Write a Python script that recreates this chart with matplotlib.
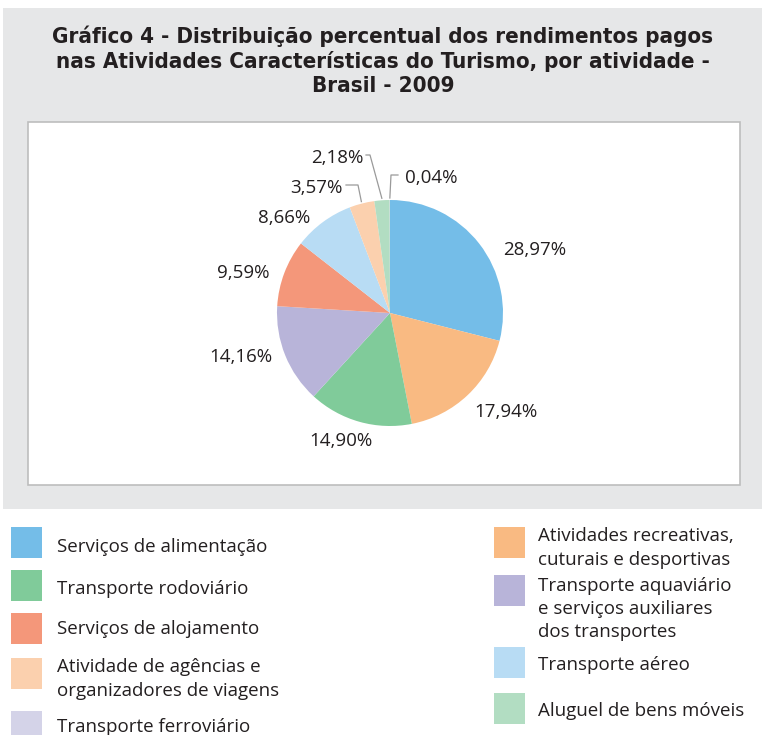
import numpy as np
import matplotlib.pyplot as plt
from matplotlib.patches import Rectangle

W, H = 762, 735

categories = [
    'Serviços de alimentação',
    'Atividades recreativas,\ncuturais e desportivas',
    'Transporte rodoviário',
    'Transporte aquaviário\ne serviços auxiliares\ndos transportes',
    'Serviços de alojamento',
    'Transporte aéreo',
    'Atividade de agências e\norganizadores de viagens',
    'Aluguel de bens móveis',
    'Transporte ferroviário',
]
values = [28.97, 17.94, 14.90, 14.16, 9.59, 8.66, 3.57, 2.18, 0.04]
pct_labels = ['28,97%', '17,94%', '14,90%', '14,16%', '9,59%',
              '8,66%', '3,57%', '2,18%', '0,04%']
colors = ['#74BDE8', '#F9BA82', '#80CB9A', '#B8B4D9', '#F4977A',
          '#B8DCF4', '#FBD0AE', '#B2DDC2', '#D4D3E8']

title_lines = ['Gráfico 4 - Distribuição percentual dos rendimentos pagos',
               'nas Atividades Características do Turismo, por atividade -',
               'Brasil - 2009']

TXT = '#231F20'
FONT = ['Open Sans', 'DejaVu Sans']
DY = 2.5  # Open Sans sits a bit high with va='center'

fig = plt.figure(figsize=(W / 100, H / 100), dpi=100)
ax = fig.add_axes([0, 0, 1, 1])


def Y(y):
    # image row (top-down) -> axis y (bottom-up)
    return H - y


# backgrounds
ax.add_patch(Rectangle((3, Y(509)), 759, 501, fc='#E6E7E8', ec='none', zorder=0))
ax.add_patch(Rectangle((28, Y(485)), 712, 363, fc='white', ec='#BDBDBD', lw=1.2, zorder=1))

for i, line in enumerate(title_lines):
    ax.text(383, Y(36 + 25 * i), line, ha='center', va='center', fontsize=16,
            fontweight='bold', family='DejaVu Sans', fontstretch='condensed',
            color=TXT, zorder=3)

# pie
cx, cy, r = 390, Y(313), 113
wedges, _ = ax.pie(values, colors=colors, startangle=90, counterclock=False,
                   center=(cx, cy), radius=r, wedgeprops=dict(linewidth=0, zorder=2))

# percentage labels (image coords of label anchor)
label_pos = [(503, 247, 'left'), (474, 409, 'left'), (341, 438, 'center'),
             (272, 354, 'right'), (269, 270, 'right'), (310, 215, 'right'),
             (343, 185, 'right'), (363, 155, 'right'), (405, 175, 'left')]
for lab, (x, y, ha) in zip(pct_labels, label_pos):
    ax.text(x, Y(y + DY), lab, ha=ha, va='center', fontsize=13.5, family=FONT,
            color=TXT, zorder=3)

# leader lines for the small slices
elbows = {6: (346, 358, 185), 7: (366, 370, 155), 8: (398, 391, 175)}
for idx, (x0, x1, y) in elbows.items():
    w = wedges[idx]
    mid = np.deg2rad((w.theta1 + w.theta2) / 2)
    ex, ey = cx + (r + 2) * np.cos(mid), cy + (r + 2) * np.sin(mid)
    ax.plot([x0, x1, ex], [Y(y), Y(y), ey], color='#9A9A9A', lw=0.9, zorder=3)

# legend
left_order = [0, 2, 4, 6, 8]
right_order = [1, 3, 5, 7]
left_rows = [(527, 545), (570, 587), (613, 627), (658, 676.5), (711, 725)]
right_rows = [(527, 545.5), (575, 606.5), (647, 663), (693, 708)]
for order, rows, sx, tx in [(left_order, left_rows, 11, 57),
                            (right_order, right_rows, 494, 538)]:
    for idx, (top, ty) in zip(order, rows):
        ax.add_patch(Rectangle((sx, Y(top + 31)), 31, 31, fc=colors[idx],
                               ec='none', zorder=2))
        ax.text(tx, Y(ty + DY), categories[idx], ha='left', va='center',
                fontsize=13.5, family=FONT, color=TXT, linespacing=1.37, zorder=3)

ax.set_xlim(0, W)
ax.set_ylim(0, H)
ax.set_aspect('auto')
ax.axis('off')

fig.savefig('out.png', dpi=100)
